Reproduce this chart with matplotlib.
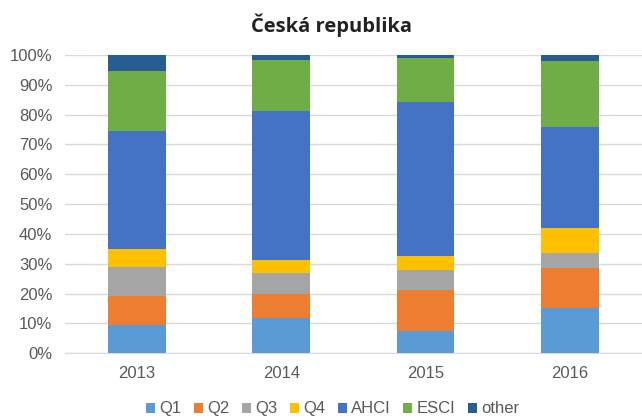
import matplotlib.pyplot as plt
import numpy as np

years = ['2013', '2014', '2015', '2016']
series = ['Q1', 'Q2', 'Q3', 'Q4', 'AHCI', 'ESCI', 'other']
# shares in percent
q1 = [9.5, 11.9, 7.3, 15.3]
q2 = [9.8, 8.1, 14.0, 13.1]
q3 = [9.5, 6.8, 6.7, 5.2]
q4 = [6.0, 4.6, 4.5, 8.5]
ahci = [39.7, 49.7, 51.8, 33.7]
esci = [20.1, 17.3, 14.8, 22.2]
other = [5.4, 1.6, 0.9, 2.0]
colors = ['#5B9BD5', '#ED7D31', '#A5A5A5', '#FFC000', '#4472C4', '#70AD47', '#255E91']

plt.rcParams['font.family'] = ['Liberation Sans', 'DejaVu Sans']

fig = plt.figure(figsize=(6.42, 4.19), dpi=100)
ax = fig.add_axes([0.101, 0.157, 0.899, 0.712])

x = np.arange(len(years))
bottom = np.zeros(len(years))
for name, vals, c in zip(series, [q1, q2, q3, q4, ahci, esci, other], colors):
    ax.bar(x, vals, 0.4, bottom=bottom, color=c, label=name, zorder=3)
    bottom += np.array(vals)

ax.set_xlim(-0.5, 3.5)
ax.set_ylim(0, 100)
ax.set_yticks(range(0, 101, 10))
ax.set_yticklabels([f'{v}%' for v in range(0, 101, 10)])
ax.set_xticks(x)
ax.set_xticklabels(years)
ax.grid(axis='y', color='#d9d9d9', linewidth=1, zorder=0)
for s in ['top', 'right', 'left']:
    ax.spines[s].set_visible(False)
ax.spines['bottom'].set_color('#d9d9d9')
ax.tick_params(length=0, labelsize=12, colors='#595959')
ax.tick_params(axis='y', pad=9)
ax.tick_params(axis='x', pad=9)

fig.text(0.516, 0.94, 'Česká republika', ha='center', va='center',
         fontsize=14.5, fontweight='bold', family=['Open Sans', 'DejaVu Sans'], color='#222222')

fig.legend(loc='center', bbox_to_anchor=(0.518, 0.024), ncol=7, frameon=False,
           fontsize=12, handlelength=0.55, handleheight=0.55, handletextpad=0.25,
           columnspacing=0.75, labelcolor='#595959')

fig.savefig('out.png', dpi=100)
